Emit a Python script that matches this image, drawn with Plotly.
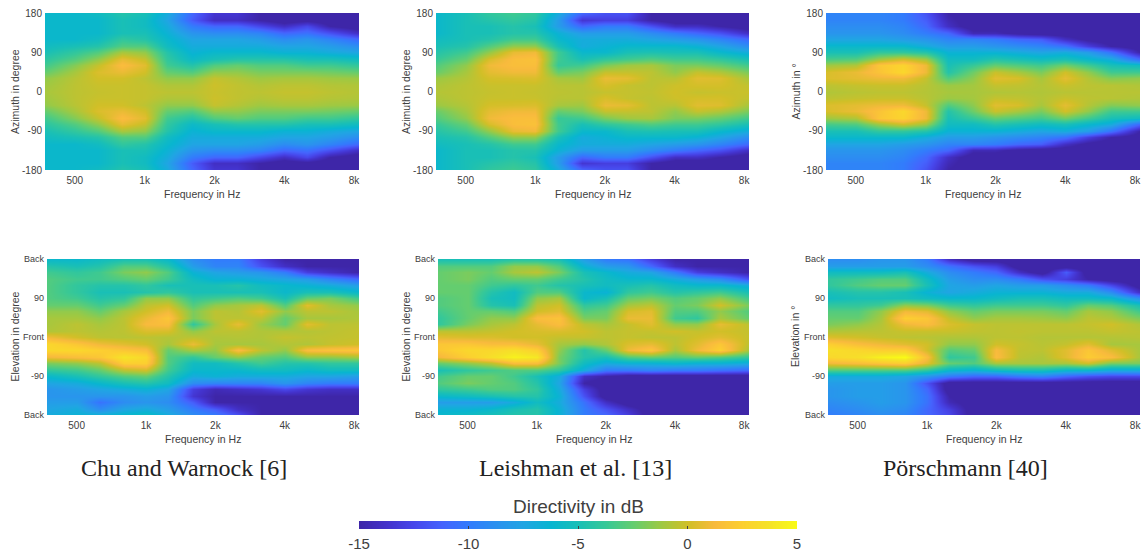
import math
import plotly.graph_objects as go

W, H = 1141, 553
freqs = [372, 500, 630, 800, 1000, 1250, 1600, 2000, 2500, 3150, 4000, 5000, 6300, 8400]
tick_freqs = [500, 1000, 2000, 4000, 8000]
tick_freq_labels = ["500", "1k", "2k", "4k", "8k"]
az_half = [0, 15, 30, 45, 60, 75, 90, 105, 120, 135, 150, 165, 180]
elev = [180, 165, 150, 135, 120, 105, 90, 75, 60, 45, 30, 15, 0, -15, -30, -45, -60, -75, -90, -105, -120, -135, -150, -165, -180]
az_ticks = [-180, -90, 0, 90, 180]
az_labels = ["-180", "-90", "0", "90", "180"]
el_ticks = [-180, -90, 0, 90, 180]
el_labels = ["Back", "-90", "Front", "90", "Back"]
captions = ["Chu and Warnock [6]", "Leishman et al. [13]", "Pörschmann [40]"]
cbar_levels = [-15, -14, -13, -12, -11, -10, -9, -8, -7, -6, -5, -4, -3, -2, -1, 0, 1, 2, 3, 4, 5]
cbar_ticks = [-15, -10, -5, 0, 5]
cbar_labels = ["-15", "-10", "-5", "0", "5"]

chu_az = [
 [-1,-.5,-.3,-.2,-.3,-.5,-.5,-.2,-.4,-.5,-.3,-.3,-.5,-.7],
 [-1.2,-.5,-.2,-.2,-.3,-.8,-.8,-.1,-.4,-.7,-.5,-.5,-.7,-.8],
 [-1.5,-.6,0,0,-.5,-1.5,-1.5,-.3,-.7,-1.2,-1,-1,-1.2,-1.3],
 [-2.5,-1,.3,.8,0,-2.5,-3,-1.5,-1.5,-2,-2,-2,-2.2,-2.5],
 [-3.5,-1.8,-.3,1.5,.5,-3.5,-4.5,-3,-2.5,-3,-3,-3.5,-3.5,-4],
 [-4.2,-3,-1.5,.7,-.3,-4,-5.8,-5,-4.5,-4.5,-4.5,-5,-5,-5.5],
 [-5,-4,-3,-1,-1.5,-4.5,-6.5,-6,-6,-6,-6.5,-6.5,-7,-7.5],
 [-5.5,-5,-4.5,-3,-3,-5.5,-7,-7,-7,-7,-7.5,-7.5,-8,-9],
 [-6,-6,-5.5,-4,-4.5,-6,-7.5,-7.5,-7.5,-8,-9,-8.5,-9.5,-11],
 [-6,-6,-6,-5,-5,-6.5,-8.5,-9,-9,-9.5,-11,-10.5,-12,-14],
 [-6,-6,-6,-5,-5.5,-7,-10,-11,-11,-12.5,-14,-12.5,-15,-16],
 [-6,-6,-6,-5,-5.5,-7.5,-11.5,-14,-14,-15,-16,-15.5,-16,-16],
 [-6,-6,-5.5,-4.5,-5,-7,-11,-13.5,-13.5,-15,-16,-16,-16,-16],
]
lei_az = [
 [-.7,-.5,-.3,-.2,-.3,-.5,-.6,-.3,-.3,-.4,0,-.3,-.2,-.2],
 [-.9,-.5,-.2,-.2,-.2,-.6,-.6,.2,-.3,-.5,-.1,.1,.1,-.4],
 [-1.3,-.7,.1,.2,.3,-1,-1.2,.8,.6,-.5,-.6,.5,.4,-1],
 [-2.4,-1,.6,1,1,-2.5,-2,-.3,-.3,-.5,-1.5,-.3,-.8,-2],
 [-3,-1.5,1,1.5,1.5,-3.8,-3.5,-2,-1.2,-1,-2,-2,-2.5,-3.5],
 [-3.8,-2.5,.2,1.5,1.7,-3.5,-5,-4,-3.5,-3,-3.5,-3.5,-4,-5],
 [-4.5,-3.5,-1.5,.7,1,-3.5,-6,-6,-5,-4.8,-5,-5,-6,-7],
 [-5,-4.5,-3,-1.5,-1.5,-5,-7,-6.5,-6,-6,-6,-6.5,-7.5,-9],
 [-5.5,-5,-4.5,-3.5,-3.5,-6,-7,-7,-7,-7.5,-8,-8.5,-9.5,-11],
 [-6,-5,-5,-4.5,-4.5,-6.5,-8,-8,-8,-9,-10,-11,-12,-14],
 [-6,-5,-5,-4.5,-5,-8,-11,-10,-10,-12,-14,-14,-15,-16],
 [-6,-5,-4.5,-4,-4.5,-8,-13.5,-13,-13,-15,-16,-16,-16,-16],
 [-6,-5,-4,-3.5,-4,-7,-11,-12,-12,-15,-16,-16,-16,-16],
]
por_az = [
 [-.8,-.6,-.5,-.5,-.7,-1,-1,-.8,-.7,-.8,-.6,-.6,-.6,-.6],
 [-.5,-.3,-.2,-.2,-.6,-1.3,-1.1,-.3,-.4,-.7,-.2,-.5,-.6,-.8],
 [.3,.6,.9,1,-.3,-3,-1.6,.5,.2,-1,.6,-.7,-1.8,-1.5],
 [.2,.8,1.8,3,.9,-4.5,-2.3,-.2,-1,-2,0,-1.5,-3.5,-3.5],
 [-1.2,-.8,2,2.8,.9,-5,-3.8,-2.5,-3,-3.5,-2.2,-3.5,-5,-5.5],
 [-3.3,-3,-1.2,0,-1.2,-5.5,-5.5,-4.5,-5,-5.5,-5,-6,-7,-11],
 [-5,-5,-4,-4,-4.5,-6.5,-6.5,-6.5,-7,-7.5,-7,-8,-10.5,-15],
 [-6,-6,-6,-6,-7,-8,-8,-8.5,-9,-9.5,-10.5,-13,-15,-16],
 [-7.5,-7.5,-7.5,-8,-8.5,-9.5,-9.5,-10,-11,-11.5,-14,-15.5,-16,-16],
 [-8.5,-8.5,-8.5,-9,-10,-11,-14.5,-14.5,-15.5,-16,-16,-16,-16,-16],
 [-9,-9,-9,-9.5,-11,-14,-16,-16,-16,-16,-16,-16,-16,-16],
 [-9.5,-9.5,-9.5,-10,-11.5,-14.5,-16,-16,-16,-16,-16,-16,-16,-16],
 [-9.5,-9.5,-9.5,-10,-12,-15,-16,-16,-16,-16,-16,-16,-16,-16],
]
chu_el = [
 [-6,-6,-5.5,-5,-5,-6,-9,-10,-10,-13,-15,-15,-15,-15],
 [-4.5,-5,-4.5,-3,-3,-4.5,-8,-9.5,-9.5,-12,-14,-15,-15,-15],
 [-3.5,-4,-3.5,-2,-1.5,-3,-6.5,-7.5,-8,-8.5,-10,-13,-14,-15],
 [-3,-3.5,-3.5,-3,-2.5,-3.5,-5.5,-6.5,-6.5,-7,-7.5,-8,-9.5,-11],
 [-3,-4,-4.5,-4.5,-4,-5,-5,-5,-4.5,-5.5,-6,-6.5,-7,-8],
 [-3,-4,-5,-5,-4.5,-4,-5,-5,-5,-5,-6,-5,-5,-6],
 [-3,-3.5,-4.5,-4,-1.5,-1.5,-4,-3.5,-3,-3.5,-5,-2.5,-2,-3.5],
 [-2.5,-2.5,-3.5,-2.5,-.5,0,-3,-1.5,-1,-.5,-3,.5,-1,-1.5],
 [-1.5,-1.5,-2.5,-1,0,1,-2,-.5,-.7,.5,-1.5,-.5,-.5,-1],
 [-1,-1,-1.5,-.5,.8,2,-2,-.5,-.5,-.5,-2.5,-1,-1,-.8],
 [-1,-.5,-1,-.5,1.3,1.5,-4,-1,.7,-1.3,-2.5,.5,-.5,-.5],
 [-.8,-.5,-.7,-.5,.3,.2,-1.5,-.5,-.5,-.8,-.8,-.7,-.5,-.3],
 [1,0,-.5,-.6,-.5,-.7,-.5,-.8,-.7,-.8,-.3,-.5,-.4,-.3],
 [3,2,1,.5,0,-1,.8,-1,-1,-1,-.7,-.8,-.3,0],
 [3,3,2.5,2,1.5,-2.5,-1,-1.5,1.5,-.5,-1.5,1.5,1.8,2],
 [1,1.5,2,3.8,3,-3,-4,-2.5,-1.5,-2.5,-3,-1.5,-1.5,-1],
 [-2,-1.5,-.5,2.5,2.5,-3,-5.5,-5.5,-4.5,-3.5,-4.5,-4.5,-4,-4],
 [-4,-3.5,-2.5,-.5,0,-3.5,-6,-6,-6,-5.5,-5.5,-6,-5.5,-5.5],
 [-6,-5,-4,-3,-2.5,-4.5,-7,-6.5,-7,-7,-7,-7.5,-7.5,-8],
 [-7.5,-7,-6,-5,-4.5,-5.5,-9,-9.5,-9.5,-9.5,-8.5,-9.5,-10,-10],
 [-8.5,-8,-7.5,-7,-6.5,-7.5,-13,-14.5,-14,-13.5,-12.5,-13.5,-14,-14],
 [-8.5,-8.5,-8.5,-8.5,-8,-8.5,-13.5,-15,-15,-15,-15,-15,-15,-15],
 [-8,-8,-10.5,-9,-8.5,-9,-11.5,-15,-15,-15,-15,-15,-15,-15],
 [-7.5,-7,-9,-7.5,-7,-8,-10,-11.5,-14,-15,-15,-15,-15,-15],
 [-7,-6.5,-6.5,-6,-5.5,-7,-9,-10,-12,-15,-15,-15,-15,-15],
]
lei_el = [
 [-5,-5,-5,-4.5,-4.5,-5,-8,-10,-10.5,-13,-15,-15,-15,-15],
 [-3,-3,-3,-1.5,-1.5,-3,-6.5,-8,-8.5,-11,-14,-15,-15,-15],
 [-2.5,-2,-2.5,-1,-.5,-2,-5,-6,-7,-7.5,-10,-13,-14,-15],
 [-2.5,-2,-3,-2.5,-2.5,-3.5,-4.5,-5.5,-6,-6,-7,-8,-9,-12],
 [-2.5,-2.5,-3.5,-4,-3.5,-4.5,-5,-5.5,-5,-4.5,-5.5,-6,-6,-7],
 [-2.5,-2.5,-4.5,-5.5,-3,-3,-6,-6.5,-4,-3.5,-4.5,-4,-3.5,-5],
 [-3,-2.5,-5,-5.5,-1.5,-1,-6,-5,-2.5,-2,-3,-2.5,-1.5,-3.5],
 [-3,-2.5,-4.5,-5,-.5,0,-4,-3.5,-1,-.5,-2.5,-2,0,-2],
 [-3.5,-2.5,-2.5,-3,0,.5,-3,-2.5,.2,.5,-3,-3,-1.5,-3],
 [-4,-2.5,-1.5,-1.5,1.5,1.8,-2,-2,.8,.8,-3.5,-4,-1,-2.5],
 [-4,-2,-1,-.5,.7,1.5,-.5,-1,-.3,.5,-1.5,-1.5,.7,-.5],
 [-.5,-.5,-.3,0,.2,.3,0,-.5,-.3,-.3,0,-.3,0,-.3],
 [.5,.3,.3,0,0,-.3,-.3,-.5,-.3,-.5,-.5,0,.5,-.3],
 [2,2,1.5,1.5,.7,-1,-1.5,-.8,.3,.7,-.5,.5,2,-.5],
 [2,3,3,3.5,2.5,-1.5,-4.5,-2.5,1,2,-1,1,2.5,-1],
 [1,2.5,3.5,4.5,4,-2,-4.5,-5,-3,-2.5,-3,-2.5,-3,-4],
 [-2.5,-1.5,-.5,1.5,1.5,-2,-5.5,-7,-6.5,-6.5,-6,-6.5,-6.5,-7],
 [-5,-4,-3.5,-3,-3,-4,-7,-10,-10,-9.5,-10,-10,-10.5,-11],
 [-3.5,-2.5,-2.5,-3.5,-5,-7,-14,-15,-16,-16,-16,-16,-16,-16],
 [-3,-2,-2.5,-3,-4.5,-7.5,-15,-16,-16,-16,-16,-16,-16,-16],
 [-4,-3.5,-3,-3,-4,-7,-13,-16,-16,-16,-16,-16,-16,-16],
 [-6,-5.5,-5,-4.5,-4.5,-6.5,-12,-16,-16,-16,-16,-16,-16,-16],
 [-8,-8,-8,-7,-5.5,-7,-10.5,-14,-16,-16,-16,-16,-16,-16],
 [-6.5,-6.5,-6,-5,-4.5,-6.5,-10,-12,-14,-16,-16,-16,-16,-16],
 [-6,-5.5,-5,-4.5,-4.5,-6.5,-10,-11,-13,-16,-16,-16,-16,-16],
]
por_el = [
 [-9,-9,-8.5,-8.5,-10,-14,-16,-16,-16,-16,-16,-16,-16,-16],
 [-8,-8,-8,-8,-9,-10.5,-12,-13,-16,-16,-16,-16,-16,-16],
 [-5.5,-5.5,-5.5,-5,-7,-9,-10,-11,-14,-16,-11.5,-16,-16,-16],
 [-4,-3.5,-3,-3,-5.5,-8,-9,-9,-10,-12,-13,-15,-16,-16],
 [-4,-3,-2.5,-2.5,-5,-7.5,-8,-7.5,-8,-8,-9,-10,-12.5,-16],
 [-5,-4.5,-4.5,-5,-6.5,-7.5,-7,-6.5,-6.5,-6.5,-7,-7,-9,-14],
 [-5.5,-5,-5,-5,-5.5,-6,-6,-5.5,-5,-5,-5.5,-5.5,-6,-9],
 [-4,-4,-3.5,-1.5,-2,-3.5,-4,-3.5,-3.5,-3.5,-4,-2.5,-3,-5],
 [-3,-3,-1.5,1,.5,-1.5,-2.5,-2,-2,-2,-2.5,-1,-1.5,-3.5],
 [-2.5,-2.5,-1,2.5,2,-.3,-1.5,-1,-1,-1.2,-1.5,-.5,-.8,-2],
 [-2,-1.5,-.7,1,1.5,.3,-.3,-.5,-.5,-.5,-.5,-.3,0,-.8],
 [-.8,-.6,-.5,-.2,-.2,-.2,-.4,-.5,-.4,-.5,-.5,-.5,-.3,-.5],
 [.3,0,-.3,-.5,-.6,-.8,-.8,-.5,-.5,-.7,-.7,-.7,-.7,-.6],
 [2.5,1.5,1,.5,0,-1.5,-1.5,0,-.3,-.6,-.3,.5,-1,-1],
 [3.5,3,2.5,2.5,0,-3,-2.5,1.3,-.4,-.5,.5,2,.5,-1],
 [3,3.5,4.5,5,1.5,-4,-3.5,1.5,-.5,-.8,.5,2.3,1.5,-1],
 [1,1.5,2,2.5,.5,-2.5,-3,-1,-1,-1,-1,0,-2,-2],
 [-3,-3,-3,-3,-4,-6,-6.5,-5.5,-5,-5,-6,-6,-7,-7],
 [-7,-7,-7,-7.5,-8.5,-10,-11,-11,-10,-9.5,-11,-12,-12.5,-12.5],
 [-8,-8,-8,-8.5,-12,-16,-16,-16,-16,-16,-16,-16,-16,-16],
 [-8.5,-8,-8,-8.5,-11,-16,-16,-16,-16,-16,-16,-16,-16,-16],
 [-8.5,-8,-8,-8.5,-10.5,-15,-16,-16,-16,-16,-16,-16,-16,-16],
 [-9,-8.5,-8,-8.5,-10.5,-14.5,-16,-16,-16,-16,-16,-16,-16,-16],
 [-9.5,-9,-8.5,-9,-11,-13,-16,-16,-16,-16,-16,-16,-16,-16],
 [-10,-9.5,-9,-9.5,-11,-12.5,-16,-16,-16,-16,-16,-16,-16,-16],
]

parula = [
 (0.2422,0.1504,0.6603),(0.2647,0.1978,0.7952),(0.2803,0.2782,0.9221),(0.2699,0.3892,0.9906),
 (0.1963,0.4847,0.9892),(0.1687,0.5703,0.9359),(0.1248,0.6459,0.8883),(0.0297,0.7082,0.8163),
 (0.0964,0.7500,0.7120),(0.2161,0.7843,0.5923),(0.3909,0.8029,0.4354),(0.6174,0.7876,0.2612),
 (0.8203,0.7498,0.1535),(0.9728,0.7298,0.2394),(0.9892,0.8136,0.1885),(0.9610,0.8890,0.1537),
 (0.9769,0.9839,0.0805),
]
colorscale = [[i / 16, f"rgb({round(r*255)},{round(g*255)},{round(b*255)})"] for i, (r, g, b) in enumerate(parula)]

def mirror(rows):
    return rows[:0:-1] + rows

az_full = [-a for a in az_half[:0:-1]] + az_half

INK = "#404040"
SANS = "Liberation Sans, Arial, sans-serif"
panels = [
 (chu_az, az_full, az_ticks, az_labels, "Azimuth in degree", (45, 359, 13, 170), True),
 (lei_az, az_full, az_ticks, az_labels, "Azimuth in degree", (436, 749, 13, 170), True),
 (por_az, az_full, az_ticks, az_labels, "Azimuth in °", (826, 1140, 13, 170), True),
 (chu_el, elev, el_ticks, el_labels, "Elevation in degree", (47, 359, 259, 415), False),
 (lei_el, elev, el_ticks, el_labels, "Elevation in degree", (438, 749, 259, 415), False),
 (por_el, elev, el_ticks, el_labels, "Elevation in °", (828, 1140, 259, 415), False),
]
ytitle_x = [14.5, 405.5, 795, 14.5, 405.5, 795]

fig = go.Figure()
layout = dict(width=W, height=H, margin=dict(l=0, r=0, t=0, b=0, autoexpand=False), paper_bgcolor="white",
              plot_bgcolor="white", font=dict(family=SANS, color=INK), showlegend=False, template="none")
for i, (z, ys, yt, yl, ytitle, box, mir) in enumerate(panels, start=1):
    x0, x1, y0, y1 = box
    fig.add_trace(go.Heatmap(
        z=mirror(z) if mir else z, x=freqs, y=ys, xaxis=f"x{i}", yaxis=f"y{i}",
        zmin=-15, zmax=5, zsmooth="best", colorscale=colorscale, showscale=False,
        hoverinfo="skip"))
    layout[f"xaxis{i}"] = dict(
        domain=[x0 / W, x1 / W], anchor=f"y{i}", type="log", automargin=False, showline=False,
        range=[math.log10(freqs[0]), math.log10(freqs[-1])],
        tickvals=tick_freqs, ticktext=tick_freq_labels, ticks="", showgrid=False, zeroline=False,
        ticklabeloverflow="allow", ticklabelstandoff=3,
        tickfont=dict(size=10, family=SANS, color=INK))
    layout[f"yaxis{i}"] = dict(
        domain=[1 - y1 / H, 1 - y0 / H], anchor=f"x{i}", range=[-180, 180], automargin=False, showline=False,
        tickvals=yt, ticktext=yl, ticks="", showgrid=False, zeroline=False,
        ticklabeloverflow="allow", ticklabelstandoff=2,
        tickfont=dict(size=10 if mir else 9, family=SANS, color=INK))
    fig.add_annotation(text="Frequency in Hz", xref="paper", yref="paper", x=(x0 + x1) / 2 / W,
                       y=1 - (y1 + 24) / H, xanchor="center", yanchor="middle", showarrow=False,
                       font=dict(size=10.5, family=SANS, color=INK))
    fig.add_annotation(text=ytitle, xref="paper", yref="paper", x=ytitle_x[i - 1] / W,
                       y=1 - (y0 + y1) / 2 / H, xanchor="center", yanchor="middle", showarrow=False,
                       textangle=-90, font=dict(size=10.5, family=SANS, color=INK))

# colour bar as its own small axis
fig.add_trace(go.Heatmap(z=[cbar_levels], x=cbar_levels, y=[0], xaxis="x7", yaxis="y7",
                         zmin=-15, zmax=5, zsmooth="best", colorscale=colorscale,
                         showscale=False, hoverinfo="skip"))
layout["xaxis7"] = dict(domain=[359 / W, 797 / W], anchor="y7", range=[-15, 5], automargin=False,
                        tickvals=cbar_ticks, ticktext=cbar_labels, ticks="inside", ticklen=3,
                        tickwidth=0.5, tickcolor=INK, showgrid=False, zeroline=False,
                        ticklabeloverflow="allow", ticklabelstandoff=4,
                        tickfont=dict(size=15, family=SANS, color=INK))
layout["yaxis7"] = dict(domain=[1 - 529 / H, 1 - 521 / H], anchor="x7", range=[-0.5, 0.5], automargin=False,
                        showticklabels=False, ticks="", showgrid=False, zeroline=False)

for text, cx in zip(captions, [184, 575, 965]):
    fig.add_annotation(text=text, xref="paper", yref="paper", x=cx / W, y=1 - 468 / H,
                       xanchor="center", yanchor="middle", showarrow=False,
                       font=dict(size=24, family="Liberation Serif, serif", color="#222222"))
fig.add_annotation(text="Directivity in dB", xref="paper", yref="paper", x=578 / W, y=1 - 506 / H,
                   xanchor="center", yanchor="middle", showarrow=False,
                   font=dict(size=19, family=SANS, color=INK))
fig.update_layout(**layout)
fig.write_html("out.html", config={"displayModeBar": False},
               post_script="document.body.style.margin='0';document.body.style.overflow='hidden';")
